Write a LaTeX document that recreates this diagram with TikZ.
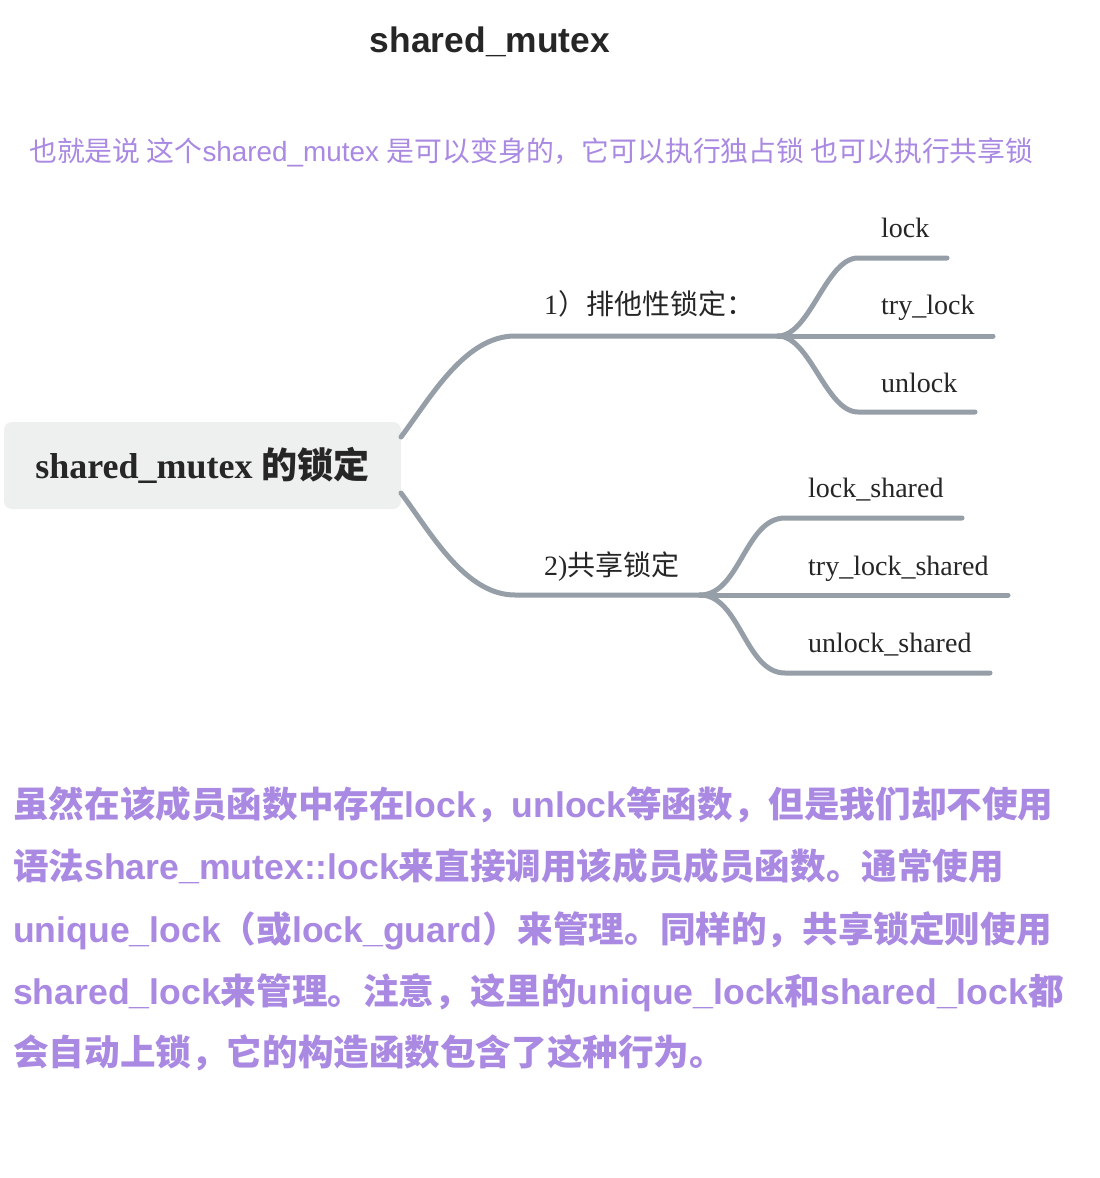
\documentclass[tikz,border=0pt]{standalone}
\usepackage{fontspec}
\setmainfont{Liberation Serif}
\setsansfont{Liberation Sans}
\newfontfamily\cjk{Noto Sans CJK SC}
\newcommand\zh[1]{{\cjk #1}}
\definecolor{purp}{RGB}{169,137,226}
\definecolor{linegray}{RGB}{150,159,168}
\definecolor{rootfill}{RGB}{238,240,240}
\definecolor{txt}{RGB}{38,38,38}
\tikzset{
  conn/.style={draw=linegray, line width=5pt, line cap=round},
  leaf/.style={anchor=base west, inner sep=0pt, text=txt, font=\fontsize{28}{33}\selectfont},
  para/.style={anchor=base west, inner sep=0pt, text=purp, font=\sffamily\bfseries\fontsize{35.6}{42}\selectfont},
}
\begin{document}
\begin{tikzpicture}[x=1pt,y=-1pt]
\useasboundingbox (0,0) rectangle (1100,1178);
\fill[white] (0,0) rectangle (1100,1178);

\node[font=\sffamily\bfseries\fontsize{35.4}{42}\selectfont, text=txt] (title) at (490,42) {shared\_mutex};

\node[anchor=base west, inner sep=0pt, text=purp, font=\sffamily\fontsize{27.85}{33}\selectfont] (sub) at (29,161)
  {\zh{也就是说 这个}shared\_mutex \zh{是可以变身的，它可以执行独占锁 也可以执行共享锁}};

% root
\node[fill=rootfill, rounded corners=8pt, minimum width=397pt, minimum height=87pt, inner sep=0pt,
      text=txt, font=\bfseries\fontsize{36}{42}\selectfont] (root) at (202.5,465.5)
  {shared\_mutex \zh{\bfseries 的锁定}};

% coordinates of branch geometry
\coordinate (r1) at (401,437);
\coordinate (r2) at (401,493);
\coordinate (b1s) at (515,336);
\coordinate (b1f) at (778,336);
\coordinate (b2s) at (515,595);
\coordinate (b2f) at (700,595);

\coordinate (l1a) at (858,258); \coordinate (l1e) at (947,258);
\coordinate (l2e) at (993,336);
\coordinate (l3a) at (858,412); \coordinate (l3e) at (975,412);

\coordinate (m1a) at (785,518); \coordinate (m1e) at (962,518);
\coordinate (m2e) at (1008,595);
\coordinate (m3a) at (785,673); \coordinate (m3e) at (990,673);

% branch labels
\node[leaf] (b1) at (544,314) {1\zh{）排他性锁定：}};
\node[leaf] (b2) at (544,575) {2)\zh{共享锁定}};

\node[leaf] (lock) at (881,237) {lock};
\node[leaf] (trylock) at (881,314) {try\_lock};
\node[leaf] (unlock) at (881,392) {unlock};
\node[leaf] (lockshared) at (808,497) {lock\_shared};
\node[leaf] (trylockshared) at (808,575) {try\_lock\_shared};
\node[leaf] (unlockshared) at (808,652) {unlock\_shared};

% connectors
\draw[conn] (r1) .. controls +(30,-40) and +(-50,0) .. (b1s) -- (b1f);
\draw[conn] (r2) .. controls +(30,40) and +(-50,0) .. (b2s) -- (b2f);

\draw[conn] (b1f) .. controls +(32,0) and +(-32,0) .. (l1a) -- (l1e);
\draw[conn] (b1f) -- (l2e);
\draw[conn] (b1f) .. controls +(32,0) and +(-32,0) .. (l3a) -- (l3e);

\draw[conn] (b2f) .. controls +(40,0) and +(-40,0) .. (m1a) -- (m1e);
\draw[conn] (b2f) -- (m2e);
\draw[conn] (b2f) .. controls +(40,0) and +(-40,0) .. (m3a) -- (m3e);

% bottom paragraph
\node[para] (p1) at (13,817) {\zh{虽然在该成员函数中存在}lock\zh{，}unlock\zh{等函数，但是我们却不使用}};
\node[para] (p2) at (13,879) {\zh{语法}share\_mutex::lock\zh{来直接调用该成员成员函数。通常使用}};
\node[para] (p3) at (13,942) {unique\_lock\zh{（或}lock\_guard\zh{）来管理。同样的，共享锁定则使用}};
\node[para] (p4) at (13,1004) {shared\_lock\zh{来管理。注意，这里的}unique\_lock\zh{和}shared\_lock\zh{都}};
\node[para] (p5) at (13,1065) {\zh{会自动上锁，它的构造函数包含了这种行为。}};
\end{tikzpicture}
\end{document}
